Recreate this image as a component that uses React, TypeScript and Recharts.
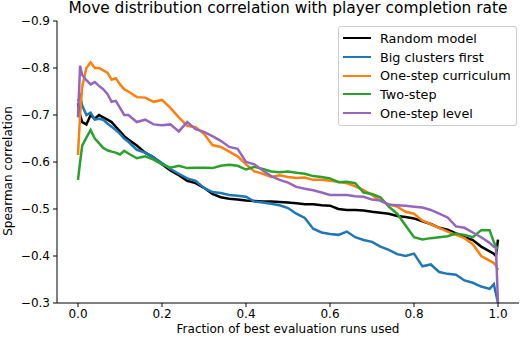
import React from 'react';
import { LineChart, Line, XAxis, YAxis, Legend } from 'recharts';

const FONT = '"DejaVu Sans", sans-serif';

const fractions = [
  0, 0.005, 0.01, 0.02, 0.03, 0.04, 0.05, 0.06, 0.07, 0.08, 0.09, 0.1, 0.11, 0.12,
  0.14, 0.16, 0.18, 0.2,
  0.22, 0.24, 0.26, 0.28, 0.3,
  0.32, 0.34, 0.36, 0.38, 0.4,
  0.42, 0.44, 0.46, 0.48, 0.5,
  0.52, 0.54, 0.56, 0.58, 0.6,
  0.62, 0.64, 0.66, 0.68, 0.7,
  0.72, 0.74, 0.76, 0.78, 0.8,
  0.82, 0.84, 0.86, 0.88, 0.9,
  0.92, 0.94, 0.96, 0.98,
  0.99, 0.995, 1.0,
];

const randomModel = [
  -0.725, -0.7, -0.685, -0.68, -0.7, -0.692, -0.7, -0.695, -0.69, -0.685, -0.675, -0.665, -0.655, -0.648,
  -0.635, -0.62, -0.61, -0.595,
  -0.582, -0.572, -0.56, -0.555, -0.545,
  -0.532, -0.525, -0.522, -0.52, -0.518,
  -0.517, -0.516, -0.516, -0.515, -0.514,
  -0.512, -0.51, -0.51, -0.508, -0.507,
  -0.5, -0.498, -0.498, -0.497, -0.494,
  -0.492, -0.49, -0.485, -0.483, -0.48,
  -0.474, -0.468, -0.46, -0.456, -0.448,
  -0.44, -0.434, -0.42, -0.41,
  -0.405, -0.4, -0.435,
];

const bigClustersFirst = [
  -0.73, -0.74, -0.72, -0.7, -0.705, -0.69, -0.692, -0.69, -0.682, -0.675, -0.668, -0.66, -0.65, -0.643,
  -0.626, -0.62, -0.61, -0.598,
  -0.585, -0.575, -0.565, -0.56, -0.545,
  -0.536, -0.534, -0.53, -0.528, -0.526,
  -0.516, -0.514, -0.511, -0.508, -0.502,
  -0.49, -0.481, -0.458, -0.45, -0.447,
  -0.445, -0.452, -0.44, -0.434, -0.43,
  -0.42, -0.413, -0.404, -0.4, -0.405,
  -0.378, -0.382, -0.366, -0.362, -0.36,
  -0.348, -0.343, -0.335, -0.33,
  -0.34, -0.32, -0.3,
];

const oneStepCurriculum = [
  -0.615, -0.7, -0.76, -0.8, -0.812, -0.8, -0.8, -0.795, -0.79, -0.775, -0.778, -0.765, -0.755, -0.75,
  -0.738, -0.737, -0.728, -0.732,
  -0.715, -0.695, -0.677, -0.674, -0.66,
  -0.636, -0.632, -0.622, -0.612, -0.595,
  -0.58, -0.575, -0.568, -0.572, -0.568,
  -0.566, -0.567, -0.562, -0.562, -0.56,
  -0.558, -0.555, -0.548, -0.54, -0.53,
  -0.518, -0.51, -0.505, -0.494, -0.49,
  -0.475, -0.468, -0.46, -0.452, -0.445,
  -0.438, -0.425, -0.4, -0.39,
  -0.385, -0.38, -0.37,
];

const twoStep = [
  -0.562, -0.6, -0.635, -0.652, -0.668, -0.65, -0.64, -0.63, -0.625, -0.622, -0.62, -0.616, -0.624, -0.618,
  -0.608, -0.612, -0.605, -0.595,
  -0.588, -0.592, -0.587, -0.588, -0.588,
  -0.587, -0.592, -0.594, -0.592, -0.584,
  -0.59, -0.585, -0.58, -0.578, -0.58,
  -0.577, -0.575, -0.57, -0.568, -0.565,
  -0.557, -0.558, -0.555, -0.535, -0.532,
  -0.525, -0.505, -0.49, -0.465, -0.44,
  -0.435, -0.438, -0.44, -0.442, -0.448,
  -0.445, -0.44, -0.455, -0.455,
  -0.43, -0.42, -0.415,
];

const oneStepLevel = [
  -0.695, -0.805, -0.785, -0.774, -0.765, -0.77, -0.762, -0.755, -0.745, -0.728, -0.73, -0.715, -0.7, -0.7,
  -0.685, -0.69, -0.68, -0.678,
  -0.68, -0.665, -0.685, -0.67, -0.664,
  -0.655, -0.645, -0.632, -0.628, -0.6,
  -0.595, -0.582, -0.57, -0.562, -0.556,
  -0.547, -0.543, -0.54, -0.535, -0.53,
  -0.53, -0.53, -0.527, -0.526, -0.52,
  -0.518, -0.509, -0.508, -0.507, -0.505,
  -0.503, -0.498, -0.49, -0.482, -0.463,
  -0.46, -0.45, -0.44, -0.428,
  -0.42, -0.418, -0.3,
];

const xTicks = [0, 0.2, 0.4, 0.6, 0.8, 1.0];
const yTicks = [-0.9, -0.8, -0.7, -0.6, -0.5, -0.4, -0.3];

const series = [
  { key: 'random', name: 'Random model', color: '#000000', values: randomModel },
  { key: 'big', name: 'Big clusters first', color: '#1f77b4', values: bigClustersFirst },
  { key: 'curriculum', name: 'One-step curriculum', color: '#ff7f0e', values: oneStepCurriculum },
  { key: 'twostep', name: 'Two-step', color: '#2ca02c', values: twoStep },
  { key: 'level', name: 'One-step level', color: '#9467bd', values: oneStepLevel },
];

const data = fractions.map((f, i) => {
  const row: Record<string, number> = { fraction: f };
  series.forEach((s) => {
    row[s.key] = s.values[i];
  });
  return row;
});

const tickStyle = { fill: '#000', fontSize: 12, fontFamily: FONT };

function LegendBox() {
  return (
    <div
      style={{
        border: '1px solid #cccccc',
        borderRadius: 3,
        background: 'rgba(255,255,255,0.8)',
        padding: '2px 5px 3px 4px',
        fontFamily: FONT,
        fontSize: 12.8,
        color: '#000',
        whiteSpace: 'nowrap',
      }}
    >
      {series.map((s) => (
        <div key={s.key} style={{ display: 'flex', alignItems: 'center', height: 18.7 }}>
          <span style={{ display: 'inline-block', width: 28, borderTop: `2.5px solid ${s.color}`, marginRight: 9 }} />
          <span>{s.name}</span>
        </div>
      ))}
    </div>
  );
}

function YLabel() {
  return (
    <text
      transform="translate(12,171) rotate(-90)"
      textAnchor="middle"
      fontSize={12}
      fontFamily={FONT}
      fill="#000"
    >
      Spearman correlation
    </text>
  );
}

export default function App() {
  return (
    <div style={{ position: 'absolute', left: 0, top: 0, width: 526, height: 342, background: '#fff' }}>
      <div
        style={{
          position: 'absolute',
          left: 57,
          top: 0,
          width: 462,
          textAlign: 'center',
          fontFamily: FONT,
          fontSize: 15.4,
          lineHeight: '16px',
          color: '#000',
        }}
      >
        Move distribution correlation with player completion rate
      </div>
      <LineChart width={526} height={342} data={data} margin={{ top: 21, right: 7, bottom: 0, left: 0 }}>
        <XAxis
          dataKey="fraction"
          type="number"
          domain={[-0.05, 1.05]}
          ticks={xTicks}
          tickFormatter={(v: number) => v.toFixed(1)}
          allowDataOverflow
          height={39}
          tick={tickStyle}
          tickSize={4}
          tickMargin={2}
          stroke="#000"
          axisLine={{ stroke: '#000', strokeWidth: 1 }}
          tickLine={{ stroke: '#000' }}
          label={{
            value: 'Fraction of best evaluation runs used',
            position: 'insideBottom',
            offset: 9,
            style: { fill: '#000', fontSize: 12, fontFamily: FONT },
          }}
        />
        <XAxis
          xAxisId="top"
          dataKey="fraction"
          type="number"
          orientation="top"
          domain={[-0.05, 1.05]}
          height={0}
          tick={false}
          tickLine={false}
          axisLine={{ stroke: '#000', strokeWidth: 1 }}
        />
        <YAxis
          type="number"
          domain={[-0.9, -0.3]}
          reversed
          ticks={yTicks}
          allowDataOverflow
          width={57}
          tickFormatter={(v: number) => `\u2212${Math.abs(v).toFixed(1)}`}
          tick={tickStyle}
          tickSize={4}
          tickMargin={3}
          axisLine={{ stroke: '#000', strokeWidth: 1 }}
          tickLine={{ stroke: '#000' }}
          label={<YLabel />}
        />
        <YAxis
          yAxisId="right"
          orientation="right"
          type="number"
          domain={[-0.9, -0.3]}
          width={0}
          tick={false}
          tickLine={false}
          axisLine={{ stroke: '#000', strokeWidth: 1 }}
        />
        {series.map((s) => (
          <Line
            key={s.key}
            type="linear"
            dataKey={s.key}
            name={s.name}
            stroke={s.color}
            strokeWidth={2.5}
            dot={false}
            isAnimationActive={false}
          />
        ))}
        <Legend
          layout="vertical"
          align="center"
          verticalAlign="middle"
          wrapperStyle={{ position: 'absolute', left: 338, top: 26, width: 'auto', height: 'auto' }}
          content={() => <LegendBox />}
        />
      </LineChart>
    </div>
  );
}
